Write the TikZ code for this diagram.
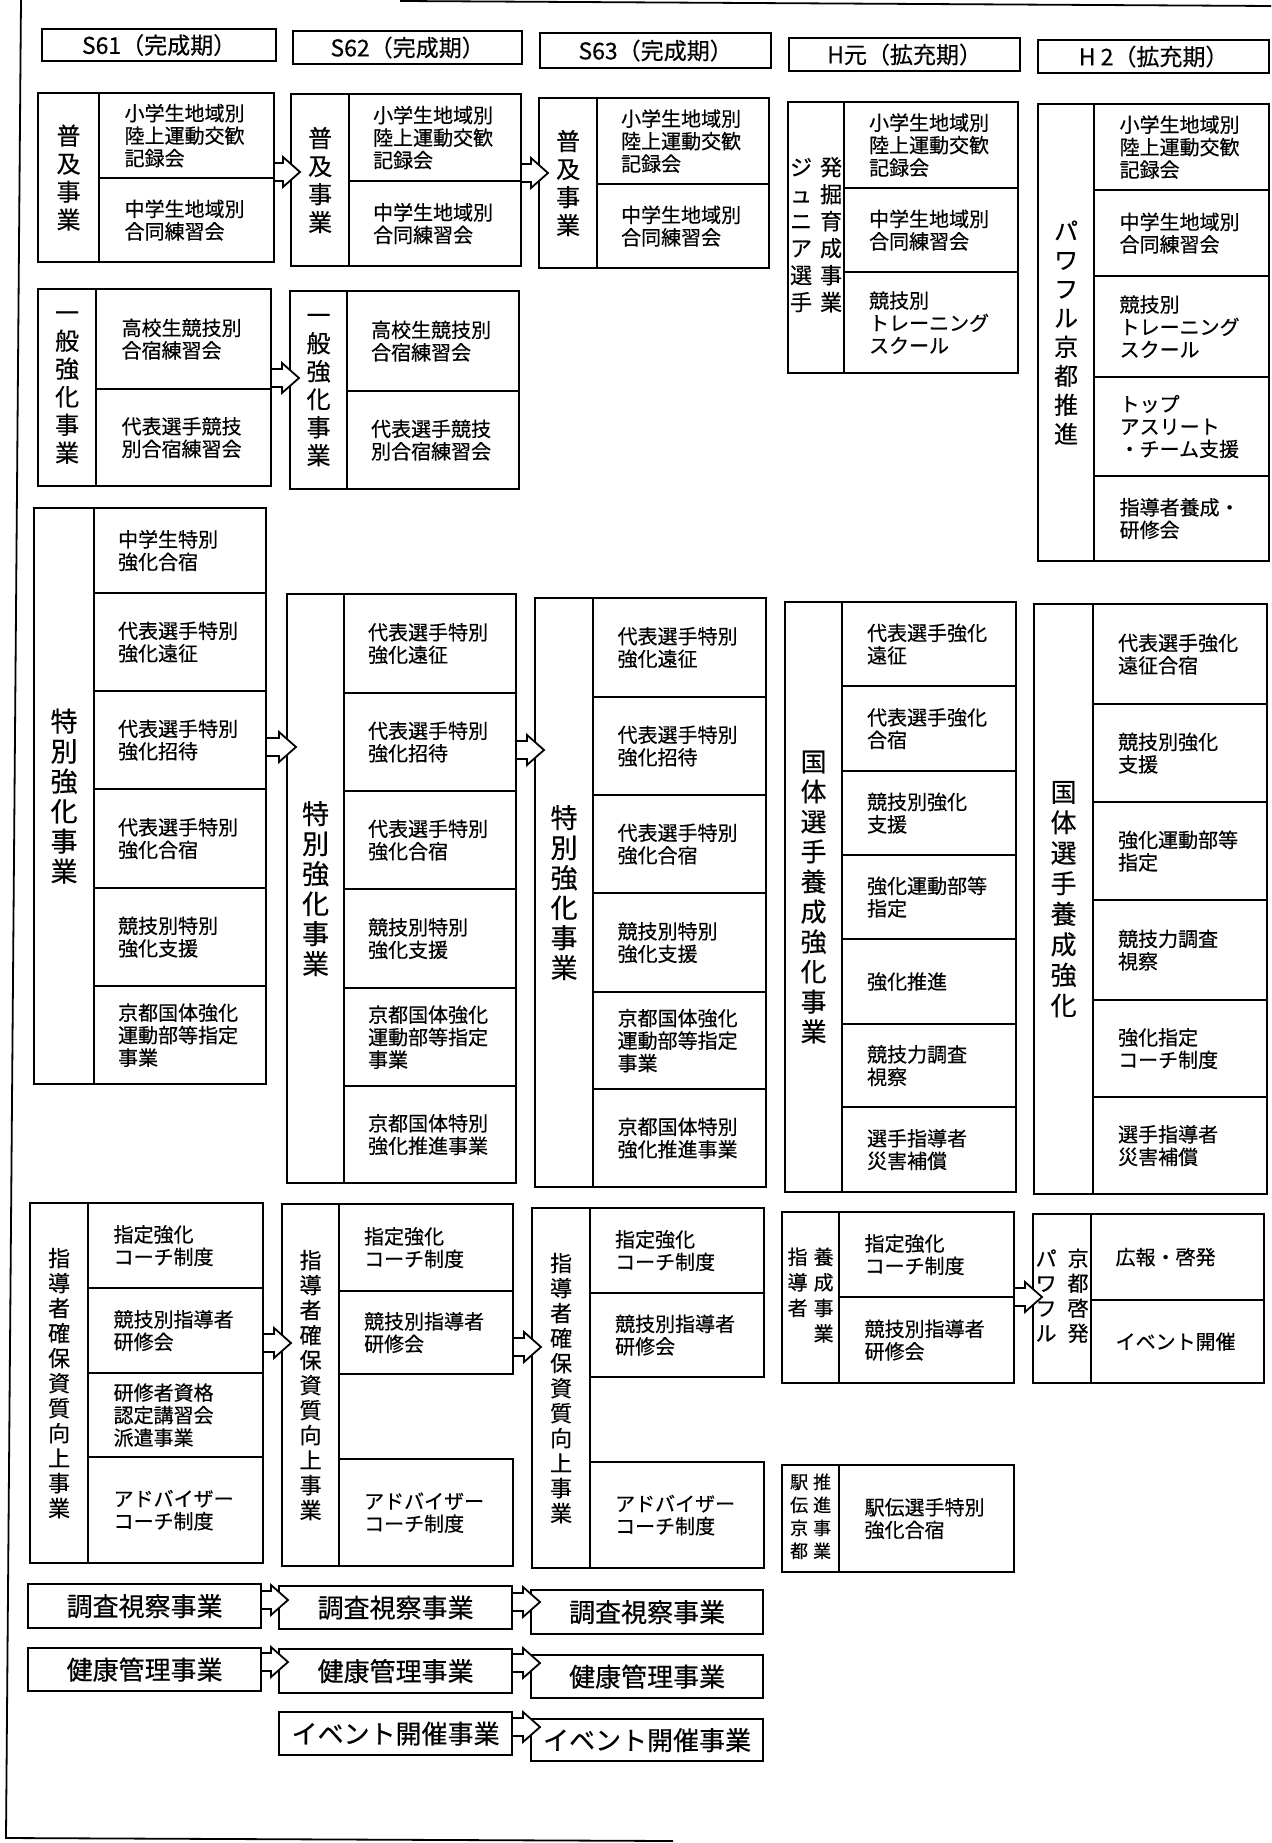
\documentclass[tikz,border=0pt]{standalone}
\usepackage{fontspec}
\setmainfont{Noto Sans CJK JP}[FakeBold=0.4]
\usetikzlibrary{calc}
\tikzset{
  bx/.style={draw, line width=2.2pt, anchor=north west, inner sep=0pt},
  lab/.style={bx, align=center},
  cell/.style={bx, text width=124pt, align=left, font=\fontsize{20}{22.5}\selectfont},
  hdr/.style={bx, font=\fontsize{23}{26}\selectfont},
  big/.style={bx, font=\fontsize{26}{30}\selectfont},
  harrowline/.style={line width=1.8pt, fill=white, line join=miter},
  frame/.style={line width=1.8pt}
}
\newcommand\harrow[3]{%
  \draw[harrowline] let \p1=(#1.east |- 0,#3), \p2=(#2.west |- 0,#3) in
    (\x1,\y1+9pt) -- (\x2-7pt,\y1+9pt) -- (\x2-7pt,\y1+15pt) -- (\x2+10pt,\y1)
    -- (\x2-7pt,\y1-15pt) -- (\x2-7pt,\y1-9pt) -- (\x1,\y1-9pt);}
\begin{document}
\begin{tikzpicture}[x=1pt,y=-1pt]
\fill[white] (0,0) rectangle (1271,1843);
\useasboundingbox (0,0) rectangle (1271,1843);
% frame
\draw[frame] (21,0) -- (6,1838) -- (673,1841);
\draw[frame] (400,1) -- (1271,6);
% headers
\node[hdr, minimum width=234pt, minimum height=32pt] (h1) at (41,28) {S61（完成期）};
\node[hdr, minimum width=229pt, minimum height=33pt] (h2) at (292,30) {S62（完成期）};
\node[hdr, minimum width=231pt, minimum height=35pt] (h3) at (539,32) {S63（完成期）};
\node[hdr, minimum width=231pt, minimum height=33pt] (h4) at (788,37) {H元（拡充期）};
\node[hdr, minimum width=231pt, minimum height=33pt] (h5) at (1037,39) {H 2（拡充期）};
% ---------- row 1 ----------
\node[lab, minimum width=61pt, minimum height=169pt, font=\fontsize{24}{28}\selectfont] (a1L) at (37,92) {普\\及\\事\\業};
\node[cell, minimum width=175pt, minimum height=85pt] (a1a) at (98,92) {小学生地域別\\陸上運動交歓\\記録会};
\node[cell, minimum width=175pt, minimum height=84pt] (a1b) at (98,177) {中学生地域別\\合同練習会};
\node[lab, minimum width=58pt, minimum height=172pt, font=\fontsize{24}{28}\selectfont] (a2L) at (290,93) {普\\及\\事\\業};
\node[cell, minimum width=172pt, minimum height=87pt] (a2a) at (348,93) {小学生地域別\\陸上運動交歓\\記録会};
\node[cell, minimum width=172pt, minimum height=85pt] (a2b) at (348,180) {中学生地域別\\合同練習会};
\node[lab, minimum width=58pt, minimum height=170pt, font=\fontsize{24}{28}\selectfont] (a3L) at (538,97) {普\\及\\事\\業};
\node[cell, minimum width=172pt, minimum height=86pt] (a3a) at (596,97) {小学生地域別\\陸上運動交歓\\記録会};
\node[cell, minimum width=172pt, minimum height=84pt] (a3b) at (596,183) {中学生地域別\\合同練習会};
\node[lab, minimum width=56pt, minimum height=271pt, font=\fontsize{22}{27}\selectfont] (a4L) at (787,101)
  {\begin{tabular}{@{}c@{\hspace{8pt}}c@{}}ジ&発\\ュ&掘\\ニ&育\\ア&成\\選&事\\手&業\end{tabular}};
\node[cell, minimum width=174pt, minimum height=86pt] (a4a) at (843,101) {小学生地域別\\陸上運動交歓\\記録会};
\node[cell, minimum width=174pt, minimum height=84pt] (a4b) at (843,187) {中学生地域別\\合同練習会};
\node[cell, minimum width=174pt, minimum height=101pt] (a4c) at (843,271) {競技別\\トレーニング\\スクール};
\node[lab, minimum width=56pt, minimum height=457pt, font=\fontsize{24}{29}\selectfont] (a5L) at (1037,103) {パ\\ワ\\フ\\ル\\京\\都\\推\\進};
\node[cell, minimum width=175pt, minimum height=86pt] (a5a) at (1093,103) {小学生地域別\\陸上運動交歓\\記録会};
\node[cell, minimum width=175pt, minimum height=86pt] (a5b) at (1093,189) {中学生地域別\\合同練習会};
\node[cell, minimum width=175pt, minimum height=101pt] (a5c) at (1093,275) {競技別\\トレーニング\\スクール};
\node[cell, minimum width=175pt, minimum height=99pt] (a5d) at (1093,376) {トップ\\アスリート\\・チーム支援};
\node[cell, minimum width=175pt, minimum height=85pt] (a5e) at (1093,475) {指導者養成・\\研修会};
% ---------- row 2 ----------
\node[lab, minimum width=58pt, minimum height=197pt, font=\fontsize{24}{28}\selectfont] (b1L) at (37,288) {一\\般\\強\\化\\事\\業};
\node[cell, minimum width=175pt, minimum height=100pt] (b1a) at (95,288) {高校生競技別\\合宿練習会};
\node[cell, minimum width=175pt, minimum height=97pt] (b1b) at (95,388) {代表選手競技\\別合宿練習会};
\node[lab, minimum width=57pt, minimum height=198pt, font=\fontsize{24}{28}\selectfont] (b2L) at (289,290) {一\\般\\強\\化\\事\\業};
\node[cell, minimum width=172pt, minimum height=100pt] (b2a) at (346,290) {高校生競技別\\合宿練習会};
\node[cell, minimum width=172pt, minimum height=98pt] (b2b) at (346,390) {代表選手競技\\別合宿練習会};
% ---------- row 3 ----------
\node[lab, minimum width=60pt, minimum height=576pt, font=\fontsize{27}{30}\selectfont] (c1L) at (33,507) {特\\別\\強\\化\\事\\業};
\node[cell, minimum width=172pt, minimum height=85pt] (c1a) at (93,507) {中学生特別\\強化合宿};
\node[cell, minimum width=172pt, minimum height=98pt] (c1b) at (93,592) {代表選手特別\\強化遠征};
\node[cell, minimum width=172pt, minimum height=98pt] (c1c) at (93,690) {代表選手特別\\強化招待};
\node[cell, minimum width=172pt, minimum height=99pt] (c1d) at (93,788) {代表選手特別\\強化合宿};
\node[cell, minimum width=172pt, minimum height=98pt] (c1e) at (93,887) {競技別特別\\強化支援};
\node[cell, minimum width=172pt, minimum height=98pt] (c1f) at (93,985) {京都国体強化\\運動部等指定\\事業};
\node[lab, minimum width=57pt, minimum height=589pt, font=\fontsize{27}{30}\selectfont] (c2L) at (286,593) {特\\別\\強\\化\\事\\業};
\node[cell, minimum width=172pt, minimum height=99pt] (c2a) at (343,593) {代表選手特別\\強化遠征};
\node[cell, minimum width=172pt, minimum height=98pt] (c2b) at (343,692) {代表選手特別\\強化招待};
\node[cell, minimum width=172pt, minimum height=98pt] (c2c) at (343,790) {代表選手特別\\強化合宿};
\node[cell, minimum width=172pt, minimum height=99pt] (c2d) at (343,888) {競技別特別\\強化支援};
\node[cell, minimum width=172pt, minimum height=98pt] (c2e) at (343,987) {京都国体強化\\運動部等指定\\事業};
\node[cell, minimum width=172pt, minimum height=97pt] (c2f) at (343,1085) {京都国体特別\\強化推進事業};
\node[lab, minimum width=58pt, minimum height=589pt, font=\fontsize{27}{30}\selectfont] (c3L) at (534,597) {特\\別\\強\\化\\事\\業};
\node[cell, minimum width=173pt, minimum height=99pt] (c3a) at (592,597) {代表選手特別\\強化遠征};
\node[cell, minimum width=173pt, minimum height=98pt] (c3b) at (592,696) {代表選手特別\\強化招待};
\node[cell, minimum width=173pt, minimum height=98pt] (c3c) at (592,794) {代表選手特別\\強化合宿};
\node[cell, minimum width=173pt, minimum height=99pt] (c3d) at (592,892) {競技別特別\\強化支援};
\node[cell, minimum width=173pt, minimum height=97pt] (c3e) at (592,991) {京都国体強化\\運動部等指定\\事業};
\node[cell, minimum width=173pt, minimum height=98pt] (c3f) at (592,1088) {京都国体特別\\強化推進事業};
\node[lab, minimum width=57pt, minimum height=590pt, font=\fontsize{26}{30}\selectfont] (c4L) at (784,601) {国\\体\\選\\手\\養\\成\\強\\化\\事\\業};
\node[cell, minimum width=174pt, minimum height=84pt] (c4a) at (841,601) {代表選手強化\\遠征};
\node[cell, minimum width=174pt, minimum height=85pt] (c4b) at (841,685) {代表選手強化\\合宿};
\node[cell, minimum width=174pt, minimum height=84pt] (c4c) at (841,770) {競技別強化\\支援};
\node[cell, minimum width=174pt, minimum height=84pt] (c4d) at (841,854) {強化運動部等\\指定};
\node[cell, minimum width=174pt, minimum height=85pt] (c4e) at (841,938) {強化推進};
\node[cell, minimum width=174pt, minimum height=83pt] (c4f) at (841,1023) {競技力調査\\視察};
\node[cell, minimum width=174pt, minimum height=85pt] (c4g) at (841,1106) {選手指導者\\災害補償};
\node[lab, minimum width=59pt, minimum height=590pt, font=\fontsize{26}{30.5}\selectfont] (c5L) at (1033,603) {国\\体\\選\\手\\養\\成\\強\\化};
\node[cell, minimum width=174pt, minimum height=100pt] (c5a) at (1092,603) {代表選手強化\\遠征合宿};
\node[cell, minimum width=174pt, minimum height=98pt] (c5b) at (1092,703) {競技別強化\\支援};
\node[cell, minimum width=174pt, minimum height=98pt] (c5c) at (1092,801) {強化運動部等\\指定};
\node[cell, minimum width=174pt, minimum height=100pt] (c5d) at (1092,899) {競技力調査\\視察};
\node[cell, minimum width=174pt, minimum height=97pt] (c5e) at (1092,999) {強化指定\\コーチ制度};
\node[cell, minimum width=174pt, minimum height=97pt] (c5f) at (1092,1096) {選手指導者\\災害補償};
% ---------- row 4 ----------
\node[lab, minimum width=58pt, minimum height=360pt, font=\fontsize{22}{25}\selectfont] (d1L) at (29,1202) {指\\導\\者\\確\\保\\資\\質\\向\\上\\事\\業};
\node[cell, minimum width=175pt, minimum height=85pt] (d1a) at (87,1202) {指定強化\\コーチ制度};
\node[cell, minimum width=175pt, minimum height=85pt] (d1b) at (87,1287) {競技別指導者\\研修会};
\node[cell, minimum width=175pt, minimum height=84pt] (d1c) at (87,1372) {研修者資格\\認定講習会\\派遣事業};
\node[cell, minimum width=175pt, minimum height=106pt] (d1d) at (87,1456) {アドバイザー\\コーチ制度};
\node[lab, minimum width=57pt, minimum height=362pt, font=\fontsize{22}{25}\selectfont] (d2L) at (281,1203) {指\\導\\者\\確\\保\\資\\質\\向\\上\\事\\業};
\node[cell, minimum width=174pt, minimum height=87pt] (d2a) at (338,1203) {指定強化\\コーチ制度};
\node[cell, minimum width=174pt, minimum height=83pt] (d2b) at (338,1290) {競技別指導者\\研修会};
\node[cell, minimum width=174pt, minimum height=107pt] (d2d) at (338,1458) {アドバイザー\\コーチ制度};
\node[lab, minimum width=58pt, minimum height=360pt, font=\fontsize{22}{25}\selectfont] (d3L) at (531,1207) {指\\導\\者\\確\\保\\資\\質\\向\\上\\事\\業};
\node[cell, minimum width=174pt, minimum height=85pt] (d3a) at (589,1207) {指定強化\\コーチ制度};
\node[cell, minimum width=174pt, minimum height=84pt] (d3b) at (589,1292) {競技別指導者\\研修会};
\node[cell, minimum width=174pt, minimum height=106pt] (d3d) at (589,1461) {アドバイザー\\コーチ制度};
\node[lab, minimum width=57pt, minimum height=171pt, font=\fontsize{20}{25.5}\selectfont] (d4L) at (781,1211)
  {\begin{tabular}{@{}c@{\hspace{6pt}}c@{}}指&養\\導&成\\者&事\\ &業\end{tabular}};
\node[cell, minimum width=175pt, minimum height=85pt] (d4a) at (838,1211) {指定強化\\コーチ制度};
\node[cell, minimum width=175pt, minimum height=86pt] (d4b) at (838,1296) {競技別指導者\\研修会};
\node[lab, minimum width=58pt, minimum height=169pt, font=\fontsize{21}{24.5}\selectfont] (d5L) at (1032,1213)
  {\begin{tabular}{@{}c@{\hspace{11pt}}c@{}}パ&京\\ワ&都\\フ&啓\\ル&発\end{tabular}};
\node[cell, minimum width=173pt, minimum height=86pt] (d5a) at (1090,1213) {広報・啓発};
\node[cell, minimum width=173pt, minimum height=83pt] (d5b) at (1090,1299) {イベント開催};
\node[lab, minimum width=57pt, minimum height=107pt, font=\fontsize{18}{23}\selectfont] (e4L) at (781,1464)
  {\begin{tabular}{@{}c@{\hspace{5pt}}c@{}}駅&推\\伝&進\\京&事\\都&業\end{tabular}};
\node[cell, minimum width=175pt, minimum height=107pt] (e4a) at (838,1464) {駅伝選手特別\\強化合宿};
% ---------- row 5 ----------
\node[big, minimum width=233pt, minimum height=44pt] (f1) at (27,1583) {調査視察事業};
\node[big, minimum width=233pt, minimum height=43pt] (f2) at (278,1585) {調査視察事業};
\node[big, minimum width=232pt, minimum height=44pt] (f3) at (530,1589) {調査視察事業};
\node[big, minimum width=233pt, minimum height=43pt] (g1) at (27,1647) {健康管理事業};
\node[big, minimum width=233pt, minimum height=44pt] (g2) at (278,1648) {健康管理事業};
\node[big, minimum width=232pt, minimum height=43pt] (g3) at (530,1654) {健康管理事業};
\node[big, minimum width=233pt, minimum height=43pt] (ev2) at (278,1711) {イベント開催事業};
\node[big, minimum width=232pt, minimum height=42pt] (ev3) at (530,1718) {イベント開催事業};
% ---------- arrows ----------
\harrow{a1a}{a2L}{172}
\harrow{a2a}{a3L}{173}
\harrow{b1a}{b2L}{378}
\harrow{c1c}{c2L}{747}
\harrow{c2b}{c3L}{750}
\harrow{d1b}{d2L}{1343}
\harrow{d2b}{d3L}{1347}
\harrow{d4b}{d5L}{1297}
\harrow{f1}{f2}{1600}
\harrow{f2}{f3}{1602}
\harrow{g1}{g2}{1662}
\harrow{g2}{g3}{1663}
\harrow{ev2}{ev3}{1727}
\end{tikzpicture}
\end{document}
